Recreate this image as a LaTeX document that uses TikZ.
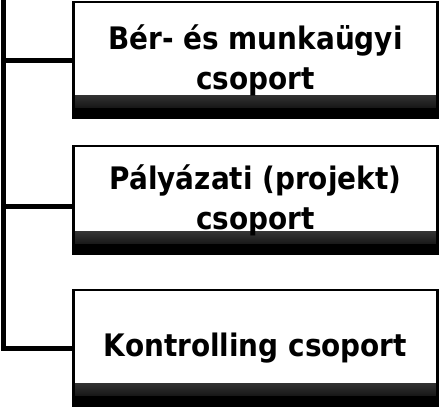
\documentclass[tikz,border=0pt]{standalone}
\usepackage{fontspec}
\setmainfont{DejaVu Sans Condensed}

\begin{document}
\begin{tikzpicture}[x=1pt, y=1pt,
        group/.style={draw, line width=2.5pt, minimum width=364pt, inner sep=0pt, align=center,
            font=\fontsize{31}{40}\selectfont\bfseries,
            path picture={
                \shade[top color=white, bottom color=black]
                    ([yshift=10pt]path picture bounding box.south west) rectangle ([yshift=22pt]path picture bounding box.south east);
                \fill[black] (path picture bounding box.south west) rectangle ([yshift=10pt]path picture bounding box.south east);
            }},
        link/.style={line width=5pt}]
        \useasboundingbox (0, 0) rectangle (441, 409);

        % Groups
        \node[group, minimum height=116pt] (ber) at (255.5, 349) {Bér- és munkaügyi\\csoport};
        \node[group, minimum height=108pt] (palyazat) at (255.5, 209) {Pályázati (projekt)\\csoport};
        \node[group, minimum height=116pt] (kontroll) at (255.5, 61) {Kontrolling csoport};

        % Spine
        \coordinate (top) at (3, 409);
        \coordinate (s1) at (3, 348);
        \coordinate (s2) at (3, 202);
        \coordinate (s3) at (3, 60);

        \draw[link] (top) -- (s3);
        \draw[link] (s1) -- (ber.west |- s1);
        \draw[link] (s2) -- (palyazat.west |- s2);
        \draw[link, line cap=rect] (s3) -- (kontroll.west |- s3);

\end{tikzpicture}
\end{document}
